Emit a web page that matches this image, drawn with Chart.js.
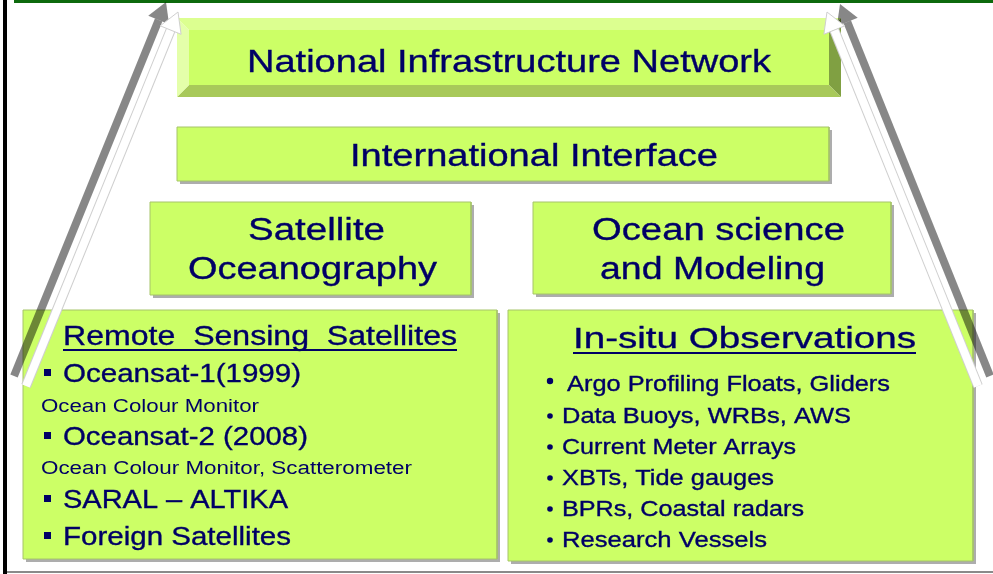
<!DOCTYPE html>
<html>
<head>
<meta charset="utf-8">
<script src="https://cdn.jsdelivr.net/npm/chart.js@4.4.0/dist/chart.umd.min.js"></script>
<style>
html, body { margin: 0; padding: 0; background: #fff; }
#wrap { width: 993px; height: 574px; }
</style>
</head>
<body>
<div id="wrap"><canvas id="diagram" width="993" height="574"></canvas></div>
<script>
// Cajas del diagrama (unidades = pixeles de la lamina, y hacia abajo)
const boxLines = [
    ['National Infrastructure Network'],
    ['International Interface'],
    ['Satellite', 'Oceanography'],
    ['Ocean science', 'and Modeling'],
    ['Remote  Sensing  Satellites'],
    ['In-situ Observations']
];
const boxLeft = [177, 177, 150, 533, 23, 508];
const boxRight = [841, 829, 471, 891, 497, 973];
const boxTop = [18, 127, 202, 202, 310, 310];
const boxBottom = [97, 181, 295, 294, 559, 561];

// Contenido de las cajas inferiores
const remoteItems = ['Oceansat-1(1999)', 'Oceansat-2 (2008)', 'SARAL \u2013 ALTIKA', 'Foreign Satellites'];
const remoteNotes = ['Ocean Colour Monitor', 'Ocean Colour Monitor, Scatterometer'];
const insituItems = ['Argo Profiling Floats, Gliders', 'Data Buoys, WRBs, AWS', 'Current Meter Arrays',
    'XBTs, Tide gauges', 'BPRs, Coastal radars', 'Research Vessels'];

// Flechas laterales (cola -> punta): gris izq, blanca izq, gris der, blanca der
const arrowFromX = [14, 26, 990, 978];
const arrowFromY = [376, 386, 376, 386];
const arrowToX = [166, 178, 840, 827];
const arrowToY = [2, 12, 4, 12];

// Colores
const colors = {
    face: '#ccff66',
    edge: '#a6c46a',
    bevelTop: '#dcff90',
    bevelLeft: '#e4ffaa',
    bevelBottom: '#a8c95a',
    bevelRight: '#80a042',
    shadow: 'rgba(0, 0, 0, 0.32)',
    text: '#000066',
    arrowGray: 'rgba(0, 0, 0, 0.47)',
    arrowEdge: '#cfcfcf'
};
const FONT = '"Liberation Sans", Arial, sans-serif';

// Posicion del texto: x izquierda, y linea base, tamano, ancho ocupado
const textLayout = [
    { text: boxLines[0][0], x: 247, y: 72, size: 32, w: 524 },
    { text: boxLines[1][0], x: 350, y: 166, size: 31, w: 368 },
    { text: boxLines[2][0], x: 248, y: 240, size: 31, w: 137 },
    { text: boxLines[2][1], x: 188, y: 279, size: 31, w: 249 },
    { text: boxLines[3][0], x: 592, y: 240, size: 31, w: 253 },
    { text: boxLines[3][1], x: 600, y: 279, size: 31, w: 225 },
    { text: boxLines[4][0], x: 63, y: 345, size: 27, w: 394, underline: true },
    { text: boxLines[5][0], x: 573, y: 348, size: 30, w: 343, underline: true },
    { text: remoteItems[0], x: 63, y: 382, size: 26, w: 238, square: true },
    { text: remoteNotes[0], x: 41, y: 412, size: 18, w: 218 },
    { text: remoteItems[1], x: 63, y: 445, size: 26, w: 245, square: true },
    { text: remoteNotes[1], x: 41, y: 474, size: 18, w: 371 },
    { text: remoteItems[2], x: 63, y: 508, size: 26, w: 225, square: true },
    { text: remoteItems[3], x: 63, y: 545, size: 26, w: 228, square: true },
    { text: insituItems[0], x: 567, y: 391, size: 22, w: 323, dot: 3.2, dotY: 10 },
    { text: insituItems[1], x: 562, y: 423, size: 22, w: 289, dot: 2.8, dotY: 7 },
    { text: insituItems[2], x: 562, y: 454, size: 22, w: 234, dot: 2.8, dotY: 7 },
    { text: insituItems[3], x: 562, y: 485, size: 22, w: 212, dot: 2.8, dotY: 7 },
    { text: insituItems[4], x: 562, y: 516, size: 22, w: 242, dot: 2.8, dotY: 7 },
    { text: insituItems[5], x: 562, y: 547, size: 22, w: 205, dot: 2.8, dotY: 7 }
];

// Poligono relleno como dataset de linea
function poly(points, fillColor, borderColor, borderWidth, order) {
    return {
        data: points.map(p => ({ x: p[0], y: p[1] })),
        fill: fillColor ? 'shape' : false,
        backgroundColor: fillColor || 'rgba(0,0,0,0)',
        borderColor: borderColor || 'rgba(0,0,0,0)',
        borderWidth: borderWidth || 1,
        pointRadius: 0,
        tension: 0,
        clip: false,
        order: order
    };
}

function rect(l, t, r, b) {
    return [[l, t], [r, t], [r, b], [l, b], [l, t]];
}

function buildDatasets() {
    const sets = [];

    // Marco de la lamina
    sets.push(poly([[5, 0], [5, 574]], null, '#000000', 4, 90));
    sets.push(poly([[14, 1.5], [993, 1.5]], null, '#0d6a0d', 3, 90));
    sets.push(poly([[7, 572], [993, 572]], null, '#8a8a8a', 2, 90));

    boxLeft.forEach((l, i) => {
        const r = boxRight[i], t = boxTop[i], b = boxBottom[i];
        if (i === 0) {
            // Caja superior con bisel
            const k = 12;
            sets.push(poly([[l, t], [r, t], [r - k, t + k], [l + k, t + k], [l, t]], colors.bevelTop, null, 1, 60));
            sets.push(poly([[l, t], [l + k, t + k], [l + k, b - k], [l, b], [l, t]], colors.bevelLeft, null, 1, 60));
            sets.push(poly([[l, b], [l + k, b - k], [r - k, b - k], [r, b], [l, b]], colors.bevelBottom, null, 1, 60));
            sets.push(poly([[r, t], [r, b], [r - k, b - k], [r - k, t + k], [r, t]], colors.bevelRight, null, 1, 60));
            sets.push(poly(rect(l + k, t + k, r - k, b - k), colors.face, null, 1, 55));
        } else {
            sets.push(poly(rect(l + 3, t + 3, r + 3, b + 3), colors.shadow, null, 1, 70));
            sets.push(poly(rect(l, t, r, b), colors.face, colors.edge, 1, 50));
        }
    });

    // Flechas
    arrowFromX.forEach((fx, i) => {
        const fy = arrowFromY[i], tx = arrowToX[i], ty = arrowToY[i];
        const dx = tx - fx, dy = ty - fy;
        const len = Math.hypot(dx, dy);
        const ux = dx / len, uy = dy / len;
        const rad = 13;
        const head = { x: tx - ux * rad, y: ty - uy * rad };
        const base = { x: tx - ux * rad * 1.5, y: ty - uy * rad * 1.5 };
        const rot = Math.atan2(ux, -uy) * 180 / Math.PI;
        const white = i % 2 === 1;
        const o = white ? 2 : 6;

        if (white) {
            sets.push(poly([[fx, fy], [base.x, base.y]], null, colors.arrowEdge, 10, o + 2));
        }
        sets.push(poly([[fx, fy], [base.x, base.y]], null, white ? '#ffffff' : colors.arrowGray, 8, o + 1));
        sets.push({
            data: [head],
            showLine: false,
            pointStyle: 'triangle',
            pointRadius: rad,
            pointRotation: rot,
            pointBackgroundColor: white ? '#ffffff' : colors.arrowGray,
            pointBorderColor: white ? colors.arrowEdge : 'rgba(0,0,0,0)',
            pointBorderWidth: white ? 1 : 0,
            clip: false,
            order: o
        });
    });

    return sets;
}

// Texto y vinetas sobre las cajas
const textPlugin = {
    id: 'diagramText',
    afterDatasetsDraw(chart) {
        const { ctx, scales: { x, y } } = chart;
        ctx.save();
        ctx.fillStyle = colors.text;
        ctx.strokeStyle = colors.text;
        ctx.lineWidth = 0.35;
        ctx.textAlign = 'left';
        ctx.textBaseline = 'alphabetic';
        textLayout.forEach(t => {
            ctx.font = `${t.size}px ${FONT}`;
            const px = x.getPixelForValue(t.x);
            const py = y.getPixelForValue(t.y);
            const targetW = x.getPixelForValue(t.x + t.w) - px;
            const sx = targetW / ctx.measureText(t.text).width;
            ctx.save();
            ctx.translate(px, py);
            ctx.scale(sx, 1);
            ctx.fillText(t.text, 0, 0);
            if (t.size >= 22) ctx.strokeText(t.text, 0, 0);
            ctx.restore();
            if (t.underline) {
                ctx.fillRect(px, py + 4, targetW, 2);
            }
            if (t.square) {
                ctx.fillRect(x.getPixelForValue(44), y.getPixelForValue(t.y - 13), 7, 7);
            }
            if (t.dot) {
                ctx.beginPath();
                ctx.arc(x.getPixelForValue(550), y.getPixelForValue(t.y - t.dotY), t.dot, 0, Math.PI * 2);
                ctx.fill();
            }
        });
        ctx.restore();
    }
};

document.addEventListener('DOMContentLoaded', function() {
    const ctx = document.getElementById('diagram').getContext('2d');
    new Chart(ctx, {
        type: 'line',
        data: { datasets: buildDatasets() },
        options: {
            responsive: false,
            animation: false,
            devicePixelRatio: 1,
            events: [],
            layout: { padding: 0, autoPadding: false },
            plugins: {
                legend: { display: false },
                tooltip: { enabled: false }
            },
            scales: {
                x: { type: 'linear', min: 0, max: 993, display: false },
                y: { type: 'linear', min: 0, max: 574, reverse: true, display: false }
            }
        },
        plugins: [textPlugin]
    });
});
</script>
</body>
</html>
